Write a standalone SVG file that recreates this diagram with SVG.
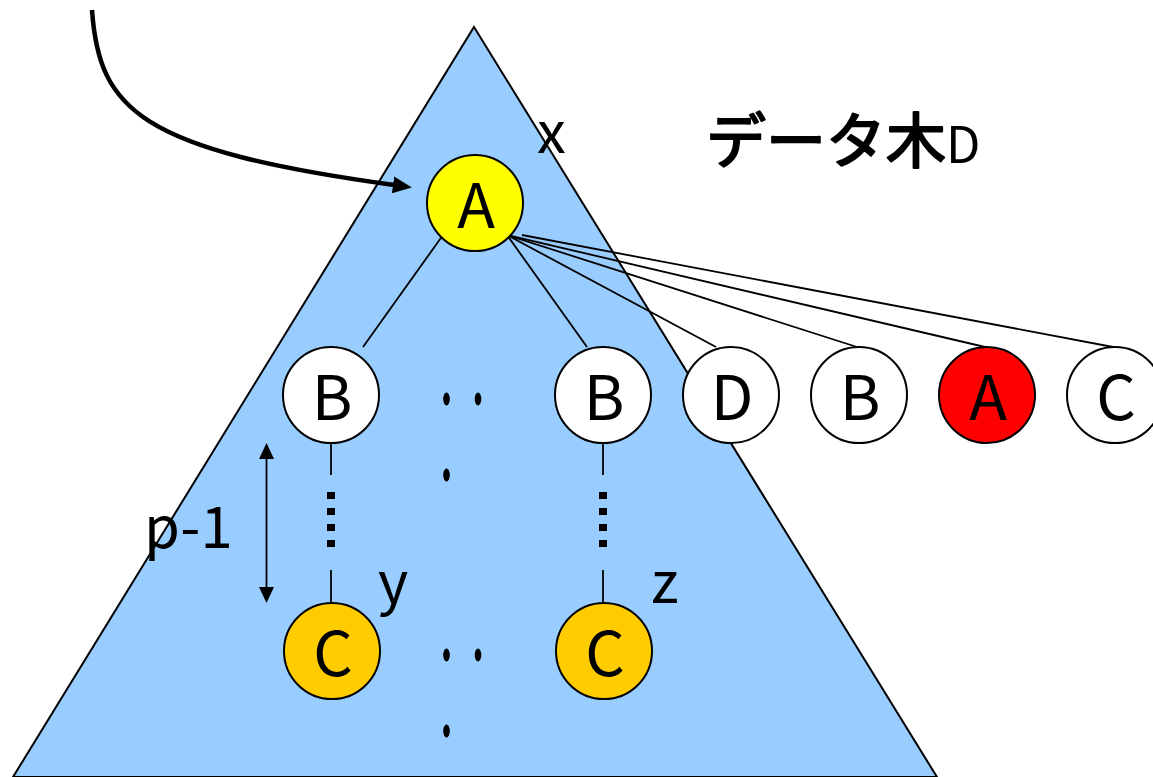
<svg xmlns="http://www.w3.org/2000/svg" width="1153" height="777" viewBox="0 0 1153 777">
<defs>
<style>
.node{stroke:#000;stroke-width:2}
.lbl{font-family:"Noto Sans CJK JP","Liberation Sans",sans-serif;font-size:62px;text-anchor:middle;fill:#000}
.txt{font-family:"Noto Sans CJK JP","Liberation Sans",sans-serif;font-size:58px;fill:#000}
.edge{stroke:#000;stroke-width:1.8;fill:none}
.curve{stroke:#000;stroke-width:4.5;fill:none}
.dot{fill:#000}
</style>
<marker id="big" markerUnits="userSpaceOnUse" viewBox="0 0 19 17" markerWidth="19" markerHeight="17" refX="1" refY="8.5" orient="auto">
<path d="M0,0 L19,8.5 L0,17 z" fill="#000"/>
</marker>
<marker id="small" markerUnits="userSpaceOnUse" viewBox="0 0 16 15" markerWidth="16" markerHeight="15" refX="1" refY="7.5" orient="auto-start-reverse">
<path d="M0,0 L16,7.5 L0,15 z" fill="#000"/>
</marker>
</defs>
<rect width="1153" height="777" fill="#fff"/>
<polygon id="treeD" points="474,27 937,777 13,777" fill="#99CCFF" stroke="#000" stroke-width="2"/>
<g id="connectors">
<path class="curve" d="M92,10 C99,110 140,150 394,185" marker-end="url(#big)"/>
<line class="edge" x1="443" y1="235" x2="363" y2="347"/>
<line class="edge" x1="507" y1="235" x2="587" y2="347"/>
<line class="edge" x1="507" y1="235" x2="716" y2="347"/>
<line class="edge" x1="507" y1="235" x2="857" y2="347"/>
<line class="edge" x1="507" y1="235" x2="985" y2="347"/>
<line class="edge" x1="522" y1="235" x2="1113" y2="347"/>
<line class="edge" x1="331" y1="443" x2="331" y2="475"/>
<line x1="331" y1="492" x2="331" y2="547" stroke="#000" stroke-width="8" stroke-dasharray="7 9"/>
<line class="edge" x1="331" y1="570" x2="331" y2="603"/>
<line class="edge" x1="603" y1="443" x2="603" y2="475"/>
<line x1="603" y1="492" x2="603" y2="547" stroke="#000" stroke-width="8" stroke-dasharray="7 9"/>
<line class="edge" x1="603" y1="570" x2="603" y2="603"/>
<line class="edge" x1="266.5" y1="458" x2="266.5" y2="588" marker-start="url(#small)" marker-end="url(#small)"/>
</g>
<g id="nodeA"><circle class="node" cx="475" cy="203" r="48" fill="#FFFF00"/><text class="lbl" x="476" y="228">A</text></g>
<g id="nodeB1"><circle class="node" cx="331" cy="395" r="48" fill="#fff"/><text class="lbl" x="332" y="420">B</text></g>
<g id="nodeB2"><circle class="node" cx="603" cy="395" r="48" fill="#fff"/><text class="lbl" x="604" y="420">B</text></g>
<g id="nodeD"><circle class="node" cx="731" cy="395" r="48" fill="#fff"/><text class="lbl" x="732" y="420">D</text></g>
<g id="nodeB3"><circle class="node" cx="859" cy="395" r="48" fill="#fff"/><text class="lbl" x="860" y="420">B</text></g>
<g id="nodeA2"><circle class="node" cx="987" cy="395" r="48" fill="#FF0000"/><text class="lbl" x="988" y="420">A</text></g>
<g id="nodeC1"><circle class="node" cx="1115" cy="395" r="48" fill="#fff"/><text class="lbl" x="1116" y="420">C</text></g>
<g id="nodeC2"><circle class="node" cx="332" cy="651" r="48" fill="#FFCC00"/><text class="lbl" x="333" y="676">C</text></g>
<g id="nodeC3"><circle class="node" cx="604" cy="651" r="48" fill="#FFCC00"/><text class="lbl" x="605" y="676">C</text></g>
<g id="dots">
<ellipse class="dot" cx="446.5" cy="399" rx="3.3" ry="6.5"/>
<ellipse class="dot" cx="478" cy="399" rx="3.3" ry="6.5"/>
<ellipse class="dot" cx="446.5" cy="475" rx="3.3" ry="6.5"/>
<ellipse class="dot" cx="446.5" cy="655" rx="3.3" ry="6.5"/>
<ellipse class="dot" cx="478" cy="655" rx="3.3" ry="6.5"/>
<ellipse class="dot" cx="446.5" cy="731" rx="3.3" ry="6.5"/>
</g>
<g id="labels">
<text class="txt" x="537" y="153">x</text>
<text x="706" y="163" font-family="Noto Sans CJK JP, Liberation Sans, sans-serif" font-size="60" fill="#000" stroke="#000" stroke-width="2" stroke-linejoin="round">データ木<tspan font-size="50" stroke="none">D</tspan></text>
<text class="txt" x="144" y="548">p-1</text>
<text class="txt" x="378" y="603">y</text>
<text class="txt" x="651" y="603">z</text>
</g>
</svg>
